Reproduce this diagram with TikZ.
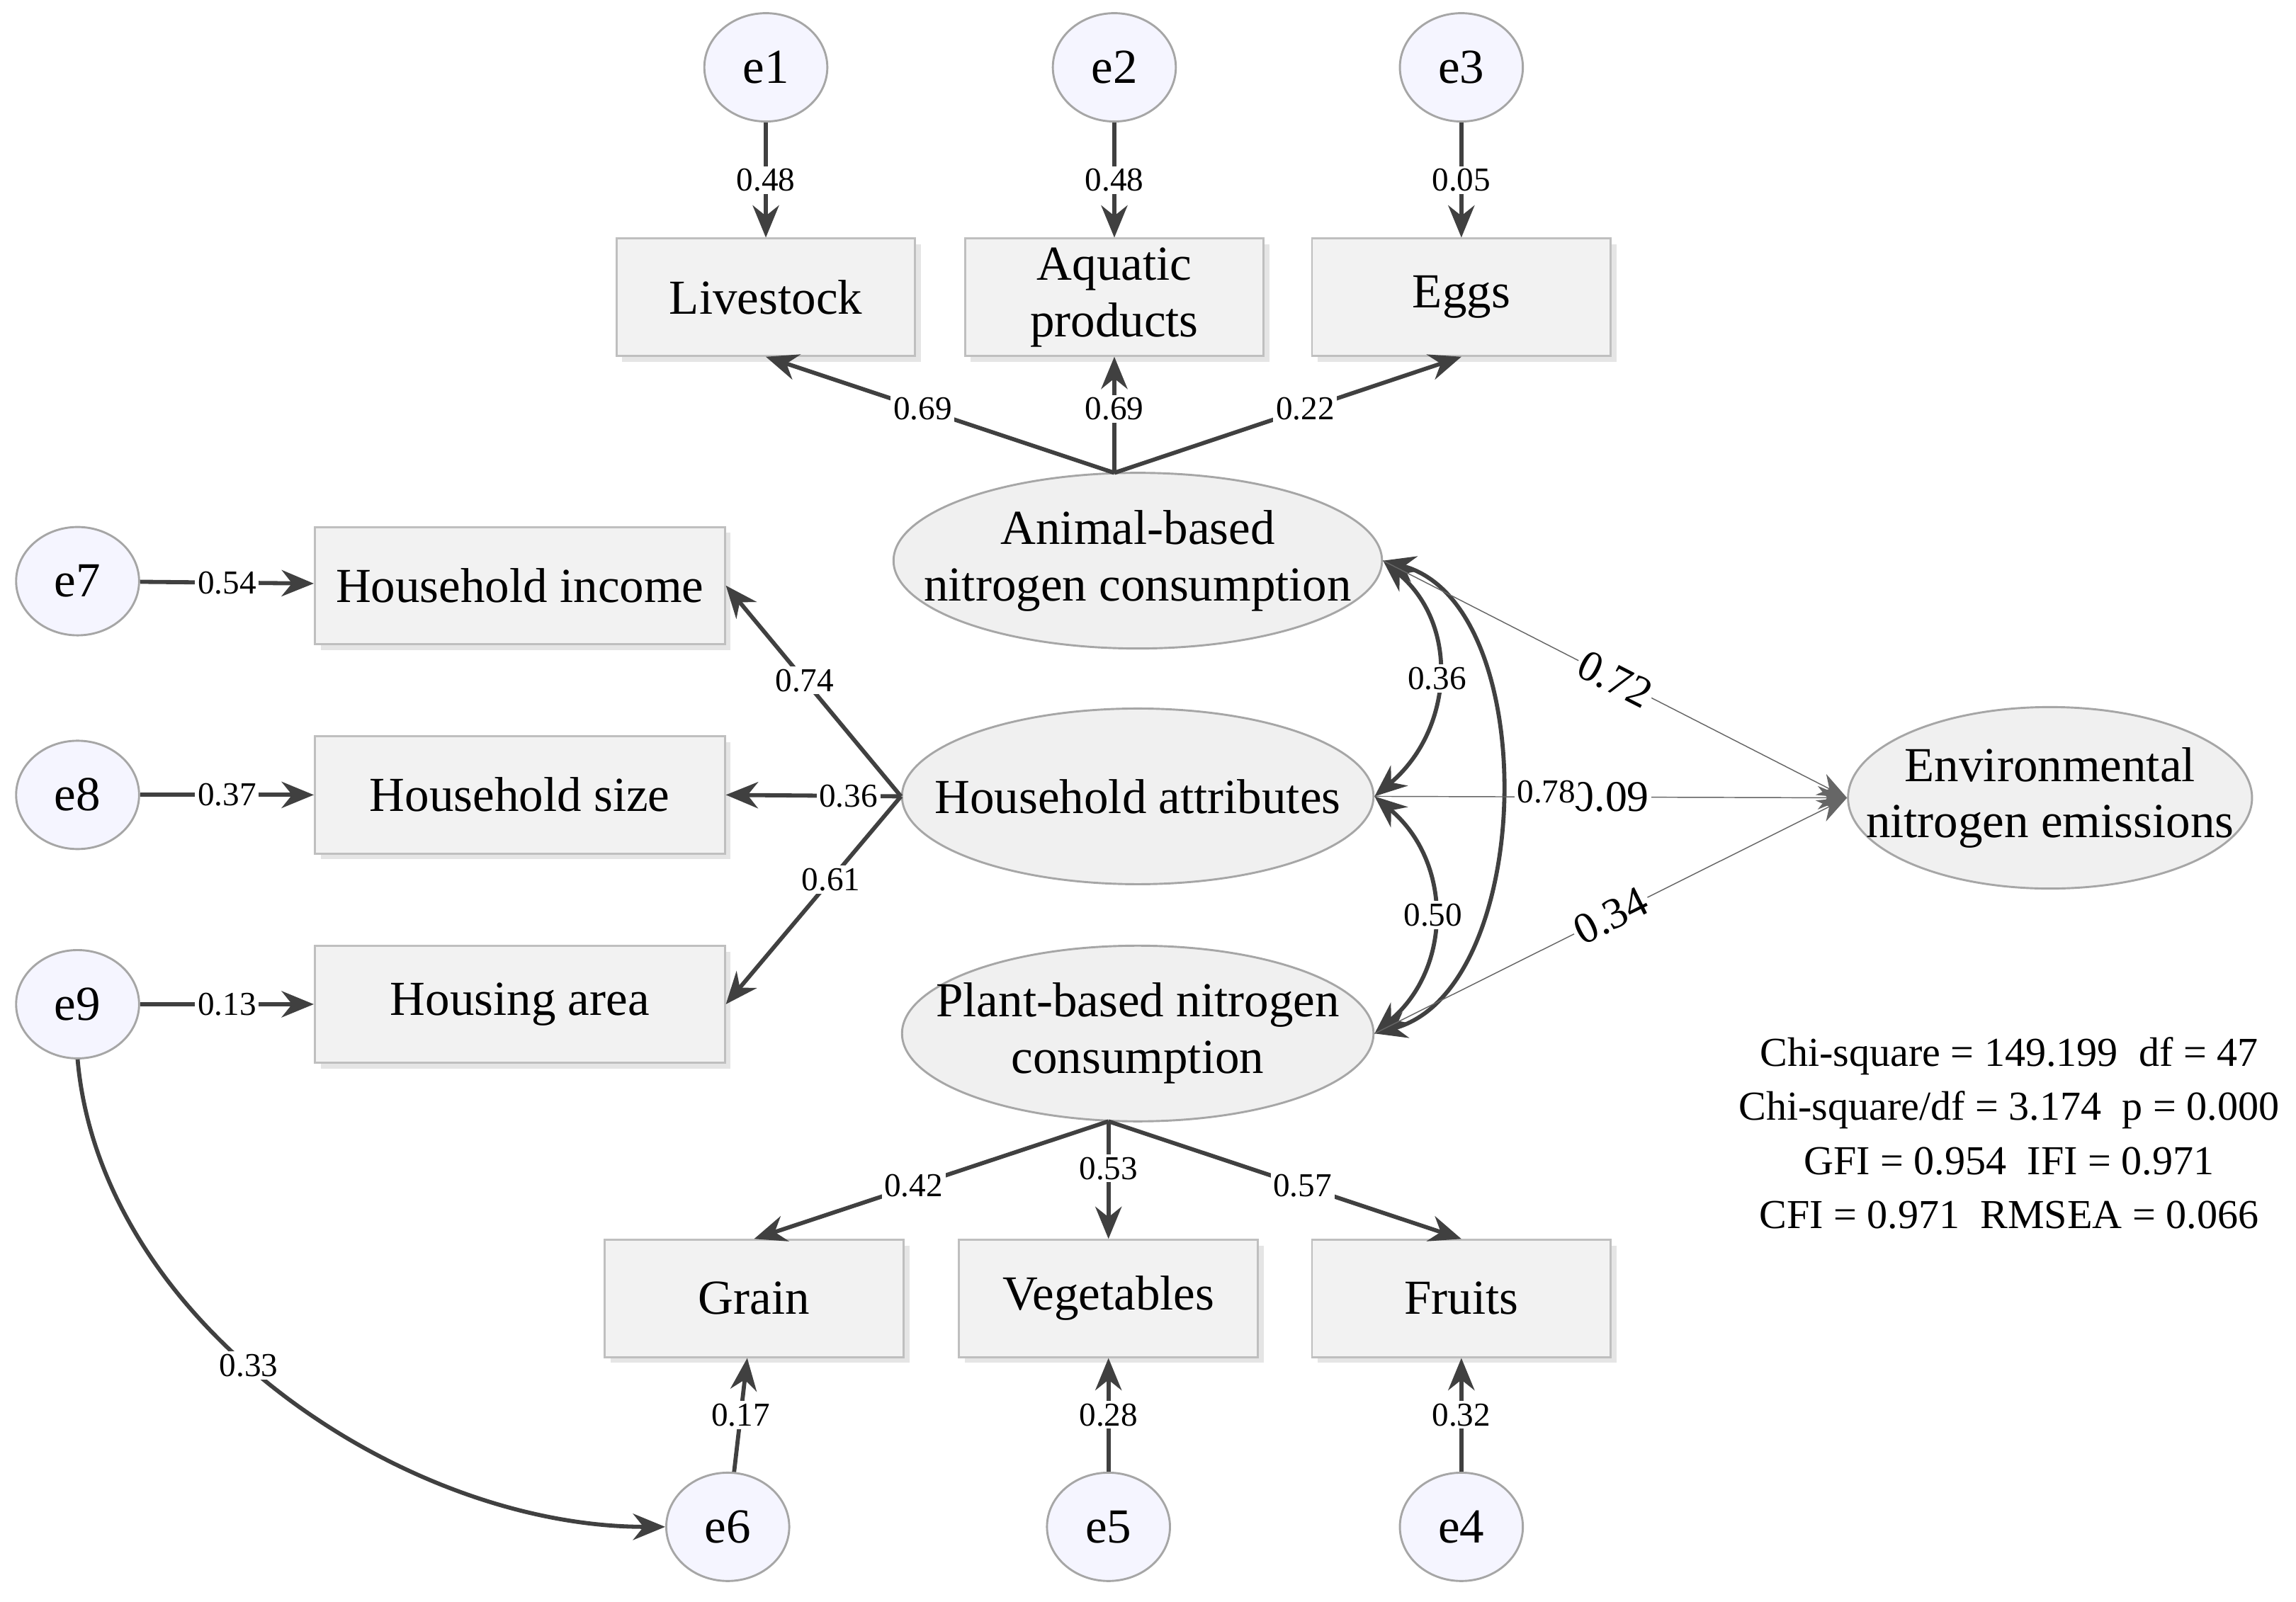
\documentclass[tikz,border=0pt]{standalone}
\usepackage{fontspec}
\setmainfont{Liberation Serif}
\usetikzlibrary{shapes.geometric,shadows,arrows.meta}
\tikzset{
  err/.style={draw=gray!70, fill=blue!4, ellipse, minimum width=0.84cm, minimum height=0.74cm, inner sep=0pt, font=\fontsize{9.5}{11}\selectfont},
  obs/.style={draw=gray!50, fill=gray!10, rectangle, drop shadow={shadow xshift=0.04cm, shadow yshift=-0.04cm, fill=gray!40}, minimum width=2.04cm, minimum height=0.8cm, inner sep=1pt, align=center, font=\fontsize{9.5}{11}\selectfont},
  wide/.style={obs, minimum width=2.8cm},
  lat/.style={draw=gray!70, fill=gray!12, ellipse, minimum width=3.22cm, minimum height=1.2cm, inner xsep=-8pt, inner ysep=-2pt, align=center, font=\fontsize{9.5}{11}\selectfont},
  path/.style={-{Stealth[length=2.2mm,width=1.8mm]}, thick, draw=black!75},
  thin/.style={-{Stealth[length=2mm,width=1.6mm]}, very thin, draw=black!60},
  lab/.style={fill=white, inner sep=0.5pt, font=\fontsize{6.5}{7}\selectfont},
  big/.style={fill=white, inner sep=0.5pt, font=\fontsize{8.5}{9}\selectfont}
}
\begin{document}
\begin{tikzpicture}
\useasboundingbox (0,0) rectangle (15.68,-10.94);
% error terms
\node[err] (e1) at (5.23,-0.46) {e1};
\node[err] (e2) at (7.61,-0.46) {e2};
\node[err] (e3) at (9.98,-0.46) {e3};
\node[err] (e7) at (0.53,-3.97) {e7};
\node[err] (e8) at (0.53,-5.43) {e8};
\node[err] (e9) at (0.53,-6.86) {e9};
\node[err] (e6) at (4.97,-10.43) {e6};
\node[err] (e5) at (7.57,-10.43) {e5};
\node[err] (e4) at (9.98,-10.43) {e4};
% observed variables
\node[obs] (live) at (5.23,-2.03) {Livestock};
\node[obs] (aqua) at (7.61,-2.03) {Aquatic\\products};
\node[obs] (eggs) at (9.98,-2.03) {Eggs};
\node[wide] (inc) at (3.55,-4.00) {Household income};
\node[wide] (size) at (3.55,-5.43) {Household size};
\node[wide] (area) at (3.55,-6.86) {Housing area};
\node[obs] (grain) at (5.15,-8.87) {Grain};
\node[obs] (veg) at (7.57,-8.87) {Vegetables};
\node[obs] (fruit) at (9.98,-8.87) {Fruits};
% latent variables
\node[lat] (anim) at (7.77,-3.83) {Animal-based\\nitrogen consumption};
\node[lat] (hh) at (7.77,-5.44) {Household attributes};
\node[lat] (plant) at (7.77,-7.06) {Plant-based nitrogen\\consumption};
\node[lat, minimum width=2.62cm, minimum height=1.24cm] (env) at (14.00,-5.45) {Environmental\\nitrogen emissions};
\coordinate (atop) at (7.61,-3.23);
\coordinate (pbot) at (7.57,-7.66);
% error paths
\draw[path] (e1) -- node[lab]{0.48} (live);
\draw[path] (e2) -- node[lab]{0.48} (aqua);
\draw[path] (e3) -- node[lab]{0.05} (eggs);
\draw[path] (e7) -- node[lab]{0.54} (inc);
\draw[path] (e8) -- node[lab]{0.37} (size);
\draw[path] (e9) -- node[lab]{0.13} (area);
\draw[path] (e6) -- node[lab]{0.17} (grain);
\draw[path] (e5) -- node[lab]{0.28} (veg);
\draw[path] (e4) -- node[lab]{0.32} (fruit);
% loadings
\draw[path] (atop) -- node[lab, pos=0.55]{0.69} (live.south);
\draw[path] (atop) -- node[lab, pos=0.55]{0.69} (aqua.south);
\draw[path] (atop) -- node[lab, pos=0.55]{0.22} (eggs.south);
\draw[path] (hh.west) -- node[lab, pos=0.55]{0.74} (inc.east);
\draw[path] (hh.west) -- node[lab, pos=0.3]{0.36} (size.east);
\draw[path] (hh.west) -- node[lab, pos=0.4]{0.61} (area.east);
\draw[path] (pbot) -- node[lab, pos=0.55]{0.42} (grain.north);
\draw[path] (pbot) -- node[lab, pos=0.4]{0.53} (veg.north);
\draw[path] (pbot) -- node[lab, pos=0.55]{0.57} (fruit.north);
% correlations
\draw[path, {Stealth[length=2.2mm,width=1.8mm]}-{Stealth[length=2.2mm,width=1.8mm]}] (anim.east) to[out=-40, in=40, looseness=1.1] node[lab, pos=0.5]{0.36} (hh.east);
\draw[path, {Stealth[length=2.2mm,width=1.8mm]}-{Stealth[length=2.2mm,width=1.8mm]}] (hh.east) to[out=-40, in=40, looseness=1.1] node[lab, pos=0.5]{0.50} (plant.east);
\draw[path, {Stealth[length=2.2mm,width=1.8mm]}-{Stealth[length=2.2mm,width=1.8mm]}] (anim.east) to[out=-15, in=15, looseness=0.9] (plant.east);
% structural paths
\draw[thin] (anim.east) -- node[big, pos=0.5, sloped]{0.72} (env.west);
\draw[thin] (hh.east) -- node[big, pos=0.5]{0.09} (env.west);
\draw[thin] (plant.east) -- node[big, pos=0.5, sloped]{0.34} (env.west);
\node[lab] (r78) at (10.56,-5.41) {0.78};
\draw[path] (e9.south) to[out=-85, in=180, looseness=0.9] node[lab, pos=0.45]{0.33} (e6.west);
% fit indices
\node[align=center, font=\fontsize{8}{10.5}\selectfont] (fit) at (13.72,-7.74) {Chi-square = 149.199~~df = 47\\Chi-square/df = 3.174~~p = 0.000\\GFI = 0.954~~IFI = 0.971\\CFI = 0.971~~RMSEA = 0.066};
\end{tikzpicture}
\end{document}
